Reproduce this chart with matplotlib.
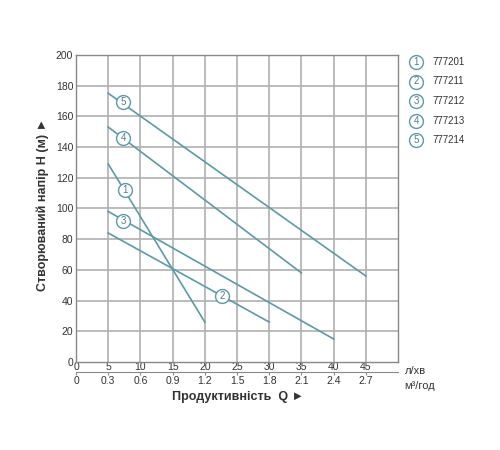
import matplotlib
matplotlib.use("Agg")
import matplotlib.pyplot as plt

plt.rcParams['font.family'] = ['Liberation Sans', 'DejaVu Sans']

# data
q_start = [5, 5, 5, 5, 5]
q_end = [20, 30, 40, 35, 45]
h_start = [129, 84, 98, 153, 175]
h_end = [26, 26, 15, 58, 56]
label_q = [7.6, 22.7, 7.3, 7.3, 7.3]
label_h = [112, 43, 92, 146, 169]
models = ["777201", "777211", "777212", "777213", "777214"]
x_ticks = [0, 5, 10, 15, 20, 25, 30, 35, 40, 45]
x2_labels = ["0", "0.3", "0.6", "0.9", "1.2", "1.5", "1.8", "2.1", "2.4", "2.7"]
y_ticks = [0, 20, 40, 60, 80, 100, 120, 140, 160, 180, 200]

teal = "#5b9aa8"
grid_c = "#b0b0b0"
txt_c = "#333333"

fig = plt.figure(figsize=(5, 4.5), dpi=100)
ax = fig.add_axes([0.152, 0.1956, 0.644, 0.6824])
ax.set_xlim(0, 50)
ax.set_ylim(0, 200)
for x in x_ticks[1:]:
    ax.axvline(x, color=grid_c, lw=1.2, zorder=0)
for y in y_ticks[1:]:
    ax.axhline(y, color=grid_c, lw=1.2, zorder=0)
for s in ax.spines.values():
    s.set_color("#888888")
    s.set_linewidth(1.0)

for i in range(5):
    ax.plot([q_start[i], q_end[i]], [h_start[i], h_end[i]], color=teal, lw=1.2, zorder=2)
    ax.plot(label_q[i], label_h[i], 'o', ms=10, mfc='white', mec=teal, mew=1.0, zorder=3)
    ax.text(label_q[i], label_h[i], str(i + 1), color="#4f7f8a", fontsize=7,
            ha='center', va='center', zorder=4)

ax.set_xticks(x_ticks)
ax.set_xticklabels([str(v) for v in x_ticks], fontsize=7.5, color=txt_c)
ax.set_yticks(y_ticks)
ax.set_yticklabels([str(v) for v in y_ticks], fontsize=7.5, color=txt_c)
ax.tick_params(axis='x', length=0, pad=0)
ax.tick_params(axis='y', length=0, pad=2)

sec = ax.secondary_xaxis(-0.034)
sec.set_xticks(x_ticks)
sec.set_xticklabels(x2_labels, fontsize=7.5, color=txt_c)
sec.tick_params(axis='x', length=2, direction='out', color="#888888", pad=0.5)
sec.spines['bottom'].set_color("#888888")

ax.text(1.02, -0.028, "л/хв", transform=ax.transAxes, fontsize=8, color=txt_c,
        ha='left', va='center')
ax.text(1.02, -0.078, "м³/год", transform=ax.transAxes, fontsize=8, color=txt_c,
        ha='left', va='center')

fig.text(0.475, 0.118, "Продуктивність  Q ►", fontsize=9, fontweight='bold',
         color=txt_c, ha='center', va='center')
fig.text(0.086, 0.545, "Створюваний напір H (м) ►", fontsize=9, fontweight='bold',
         color=txt_c, ha='center', va='center', rotation=90)

for i in range(5):
    y = 1 - (62 + 19.5 * i) / 450
    fig.lines.append(plt.Line2D([416 / 500], [y], marker='o', ms=10, mfc='white',
                                mec=teal, mew=1.0, transform=fig.transFigure))
    fig.text(416 / 500, y, str(i + 1), fontsize=7, color="#4f7f8a",
             ha='center', va='center')
    fig.text(432 / 500, y, models[i], fontsize=7, color=txt_c, ha='left', va='center')

fig.savefig("out.png", dpi=100)
